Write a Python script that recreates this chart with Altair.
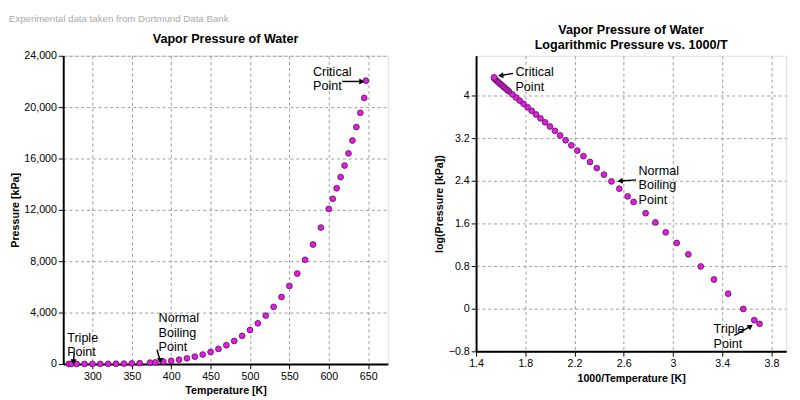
import altair as alt
import pandas as pd

# Vapor pressure of water (T in K, P in kPa)
temps = [270, 273.16, 280, 290, 300, 310, 320, 330, 340, 350, 360, 373.15, 380, 390,
         400, 410, 420, 430, 440, 450, 460, 470, 480, 490, 500, 510, 520, 530,
         540, 550, 560, 570, 580, 590, 600, 605, 610, 615, 620, 625, 630, 635,
         640, 645, 647.1]
pressures = [0.52, 0.61, 0.99, 1.92, 3.54, 6.23, 10.5, 17.2, 27.2, 41.7, 62.2, 101.3,
             129, 180, 246, 330, 437, 570, 733, 932, 1172, 1458, 1794, 2187, 2642,
             3166, 3765, 4445, 5212, 6075, 7038, 8111, 9302, 10620, 12076, 12860,
             13681, 14550, 15450, 16400, 17401, 18450, 19557, 20720, 22064]

# annotations: label lines, text position, arrow start/end
left_notes = pd.DataFrame({
    "label": [["Critical", "Point"], ["Normal", "Boiling", "Point"], ["Triple", "Point"]],
    "tx": [580, 384, 268], "ty": [23200, 4000, 2500],
    "x1": [617, 382, 277], "y1": [22000, 1100, 900],
    "x2": [642, 386, 276], "y2": [22000, 250, 150],
    "ang": [90, 180, 180],
})
right_notes = pd.DataFrame({
    "label": [["Critical", "Point"], ["Normal", "Boiling", "Point"], ["Triple", "Point"]],
    "tx": [1.72, 2.72, 3.33], "ty": [4.55, 2.7, -0.28],
    "x1": [1.7, 2.7, 3.5], "y1": [4.42, 2.42, -0.5],
    "x2": [1.6, 2.57, 3.63], "y2": [4.38, 2.4, -0.33],
    "ang": [265, 265, 55],
})

df = pd.DataFrame({"T": temps, "P": pressures})

grid = dict(gridDash=[3, 3], gridColor="#999", domainColor="black", domainWidth=2,
            labelFontSize=11, titleFontSize=11, titleFontWeight="bold", tickColor="black",
            labelOverlap=False, labelFlush=False)

mark = dict(filled=True, fill="#e01ee0", stroke="#501050", strokeWidth=0.8, size=36, opacity=1)


def notes(frame, xs, ys):
    base = alt.Chart(frame)
    text = base.mark_text(align="left", baseline="top", fontSize=13, font="Liberation Sans",
                          lineHeight=15).encode(
        x=alt.X("tx:Q", scale=xs), y=alt.Y("ty:Q", scale=ys), text="label")
    rule = base.mark_rule(color="black", strokeWidth=1.5).encode(
        x=alt.X("x1:Q", scale=xs), y=alt.Y("y1:Q", scale=ys), x2="x2", y2="y2")
    head = base.mark_point(shape="triangle-up", filled=True, color="black", size=40,
                           opacity=1).encode(
        x=alt.X("x2:Q", scale=xs), y=alt.Y("y2:Q", scale=ys), angle=alt.Angle("ang:Q", scale=None))
    return text + rule + head


xs1 = alt.Scale(domain=[263, 675], nice=False)
ys1 = alt.Scale(domain=[0, 24000], nice=False)
left = (alt.Chart(df).mark_point(**mark).encode(
    x=alt.X("T:Q", scale=xs1, title="Temperature [K]",
            axis=alt.Axis(values=list(range(300, 651, 50)), **grid)),
    y=alt.Y("P:Q", scale=ys1, title="Pressure [kPa]",
            axis=alt.Axis(values=list(range(0, 24001, 2000)), format=",.0f", **grid)),
) + notes(left_notes, xs1, ys1)).properties(
    width=335, height=318, title="Vapor Pressure of Water")

xs2 = alt.Scale(domain=[1.4, 3.92], nice=False)
ys2 = alt.Scale(domain=[-0.8, 4.75], nice=False)
right = (alt.Chart(df).transform_calculate(
    inv="1000 / datum.T", lp="log(datum.P) / LN10"
).mark_point(**mark).encode(
    x=alt.X("inv:Q", scale=xs2, title="1000/Temperature [K]",
            axis=alt.Axis(values=[round(1.4 + 0.2 * i, 1) for i in range(13)], format="~g", **grid)),
    y=alt.Y("lp:Q", scale=ys2, title="log(Pressure [kPa])",
            axis=alt.Axis(values=[round(-0.8 + 0.4 * i, 1) for i in range(14)], format="~g", **grid)),
) + notes(right_notes, xs2, ys2)).properties(
    width=320, height=305,
    title=alt.TitleParams(["Vapor Pressure of Water", "Logarithmic Pressure vs. 1000/T"]))

chart = alt.hconcat(left, right, spacing=45).properties(
    title=alt.TitleParams("Experimental data taken from Dortmund Data Bank", anchor="start",
                          fontSize=10, fontWeight="normal", color="#aaa", offset=0)
).configure_view(stroke="black", strokeWidth=1).configure_title(
    font="Liberation Sans", fontSize=12, fontWeight="bold", subtitleFont="Liberation Sans"
).configure_axis(labelFont="Liberation Sans", titleFont="Liberation Sans").configure(
    padding={"left": 0, "top": 0, "right": 5, "bottom": 0})

chart.save("out.html", embed_options={"renderer": "svg", "actions": False})
